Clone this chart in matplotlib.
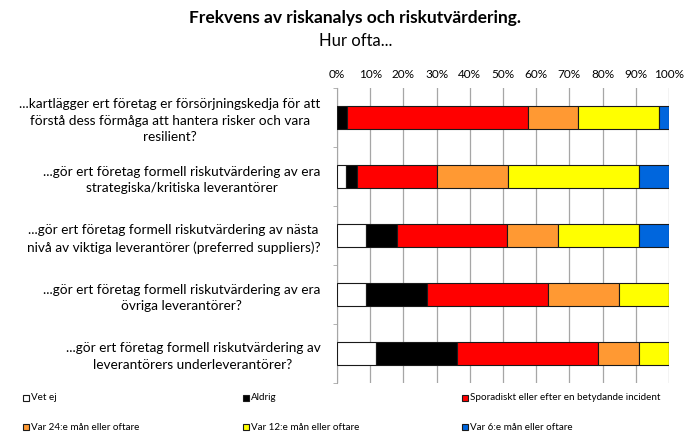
import matplotlib.pyplot as plt
import numpy as np
from matplotlib.patches import Rectangle

plt.rcParams['font.family'] = ['Lato', 'DejaVu Sans']

# DATA (percent)
fragor = [
    '...kartlägger ert företag er försörjningskedja för att\nförstå dess förmåga att hantera risker och vara\nresilient?',
    '...gör ert företag formell riskutvärdering av era\nstrategiska/kritiska leverantörer',
    '...gör ert företag formell riskutvärdering av nästa\nnivå av viktiga leverantörer (preferred suppliers)?',
    '...gör ert företag formell riskutvärdering av era\növriga leverantörer?',
    '...gör ert företag formell riskutvärdering av\nleverantörers underleverantörer?',
]
svar = ['Vet ej', 'Aldrig', 'Sporadiskt eller efter en betydande incident',
        'Var 24:e mån eller oftare', 'Var 12:e mån eller oftare', 'Var 6:e mån eller oftare']
vet_ej = [0.0, 2.6, 8.7, 8.7, 11.7]
aldrig = [2.9, 3.3, 9.5, 18.4, 24.5]
sporadiskt = [54.6, 24.1, 33.1, 36.6, 42.5]
var_24 = [15.2, 21.4, 15.3, 21.1, 12.2]
var_12 = [24.3, 39.5, 24.3, 15.2, 9.1]
var_6 = [3.0, 9.1, 9.1, 0.0, 0.0]
farger = ['#FFFFFF', '#000000', '#FF0000', '#FF9933', '#FFFF00', '#0066DD']

serier = [vet_ej, aldrig, sporadiskt, var_24, var_12, var_6]

W, H = 698, 432
fig = plt.figure(figsize=(W / 100, H / 100), dpi=100)
ax = fig.add_axes([337 / W, 1 - 383 / H, (669 - 337) / W, (383 - 88) / H])

y = np.arange(len(fragor))
vanster = np.zeros(len(fragor))
for varden, farg, namn in zip(serier, farger, svar):
    ax.barh(y, varden, left=vanster, height=0.39, color=farg,
            edgecolor='#1a1a1a', linewidth=0.8, label=namn, zorder=3)
    vanster += np.array(varden)

ax.set_xlim(0, 100)
ax.set_ylim(len(fragor) - 0.5, -0.5)
ax.set_xticks(np.arange(0, 101, 10))
ax.set_xticklabels([f'{v}%' for v in range(0, 101, 10)], fontsize=8.5)
ax.xaxis.tick_top()
ax.tick_params(axis='x', length=0, pad=6)
ax.grid(axis='x', color='#a6a6a6', linewidth=0.9, zorder=0)

ax.set_yticks(y)
ax.set_yticklabels(fragor, fontsize=9.8, linespacing=1.45)
for lbl in ax.get_yticklabels():
    lbl.set_multialignment('center')
ax.tick_params(axis='y', length=0, pad=12)
ax.set_yticks(np.arange(-0.5, len(fragor)), minor=True)
ax.tick_params(axis='y', which='minor', length=3, color='#a6a6a6')

for s in ['top', 'right', 'bottom']:
    ax.spines[s].set_visible(False)
ax.spines['left'].set_color('#a6a6a6')

fig.text(355 / W, 1 - 18 / H, 'Frekvens av riskanalys och riskutvärdering.',
         ha='center', va='center', fontsize=12.5, fontweight='bold')
fig.text(356 / W, 1 - 41 / H, 'Hur ofta...', ha='center', va='center', fontsize=12)

# legend, placed entry by entry like the original
kol_x = [23, 243, 462]
rad_y = [398, 427]
for i, (namn, farg) in enumerate(zip(svar, farger)):
    x0 = kol_x[i % 3]
    y0 = rad_y[i // 3]
    fig.patches.append(Rectangle((x0 / W, 1 - (y0 + 3) / H), 6 / W, 6 / H,
                                 transform=fig.transFigure, facecolor=farg,
                                 edgecolor='#1a1a1a', linewidth=0.8))
    fig.text((x0 + 8) / W, 1 - y0 / H, namn, ha='left', va='center', fontsize=7.1)

fig.savefig('out.png', dpi=100)
plt.close()
